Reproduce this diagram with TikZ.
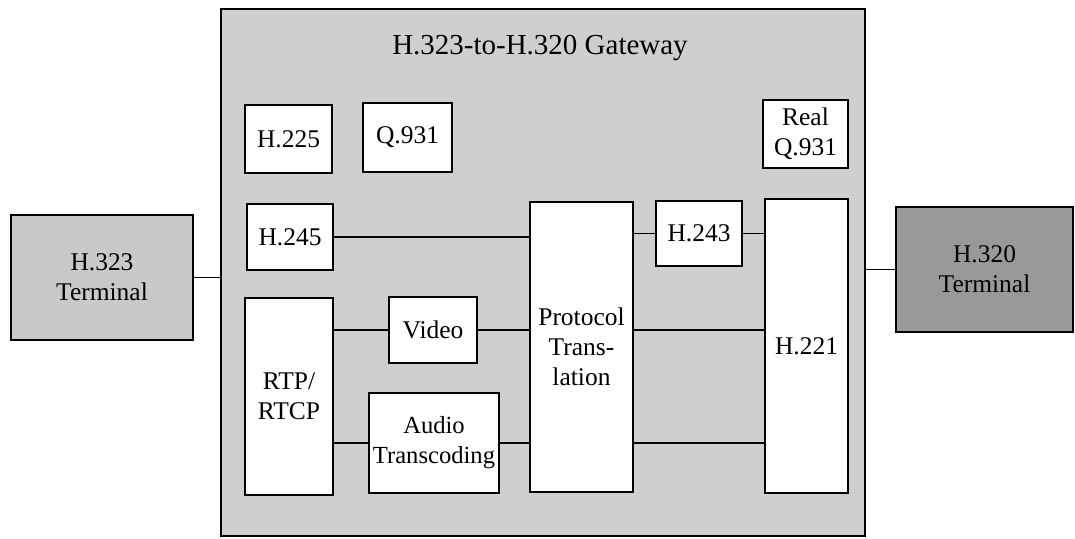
\documentclass[tikz,border=0pt]{standalone}
\usepackage{fontspec}
\setmainfont{Liberation Serif}
\usetikzlibrary{positioning,calc}

\begin{document}
\begin{tikzpicture}[
    x=0.02cm, y=-0.02cm,
    every node/.style={font=\fontsize{14.5}{17}\selectfont},
    block/.style={draw, line width=0.9pt, fill=white, inner sep=0pt, outer sep=0pt, align=center},
    terminal/.style={block, minimum width=3.6cm, minimum height=2.5cm},
    link/.style={line width=0.9pt}
  ]
    \useasboundingbox (0,0) rectangle (1075,538);
    % gateway frame
    \node[block, fill=gray!38, minimum width=12.88cm, minimum height=10.54cm] (gw) at (543,272.5) {};
    \node[font=\fontsize{16.5}{19}\selectfont] (title) at (540,48) {H.323-to-H.320 Gateway};
    % terminals
    \node[terminal, fill=gray!42, minimum width=3.64cm] (h323) at (102,277.5) {H.323\\Terminal};
    \node[terminal, fill=gray!80, minimum width=3.54cm] (h320) at (984.5,269.5) {H.320\\Terminal};
    % signalling
    \node[block, minimum width=1.74cm, minimum height=1.36cm] (h225) at (288.5,139) {H.225};
    \node[block, minimum width=1.78cm, minimum height=1.38cm] (q931) at (407.5,137.5) {Q.931};
    \node[block, minimum width=1.70cm, minimum height=1.36cm] (realq) at (805.5,134) {Real\\Q.931};
    \node[block, minimum width=1.72cm, minimum height=1.32cm] (h245) at (290,237) {H.245};
    \node[block, minimum width=1.72cm, minimum height=1.30cm] (h243) at (699,233.5) {H.243};
    % media path
    \node[block, minimum width=1.76cm, minimum height=3.94cm] (rtp) at (289,396.5) {RTP/\\RTCP};
    \node[block, minimum width=1.76cm, minimum height=1.32cm] (video) at (433,330) {Video};
    \node[block, minimum width=2.60cm, minimum height=2.00cm, font=\fontsize{14}{17}\selectfont] (audio) at (434,443) {Audio\\Transcoding};
    \node[block, minimum width=2.06cm, minimum height=5.80cm] (proto) at (581.5,347) {Protocol\\Trans-\\lation};
    \node[block, minimum width=1.66cm, minimum height=5.88cm] (h221) at (806.5,346) {H.221};
    % connections
    \draw[link] (h323.east) -- (h323.east -| gw.west);
    \draw[link] (h320.west) -- (h320.west -| gw.east);
    \draw[link] (h245.east) -- (h245.east -| proto.west);
    \draw[link] (h243.west) -- (h243.west -| proto.east);
    \draw[link] (h243.east) -- (h243.east -| h221.west);
    \draw[link] (video.west) -- (video.west -| rtp.east);
    \draw[link] (video.east) -- (video.east -| proto.west);
    \draw[link] (audio.west) -- (audio.west -| rtp.east);
    \draw[link] (audio.east) -- (audio.east -| proto.west);
    \draw[link] (proto.east |- video.east) -- (h221.west |- video.east);
    \draw[link] (proto.east |- audio.east) -- (h221.west |- audio.east);
  \end{tikzpicture}
\end{document}
